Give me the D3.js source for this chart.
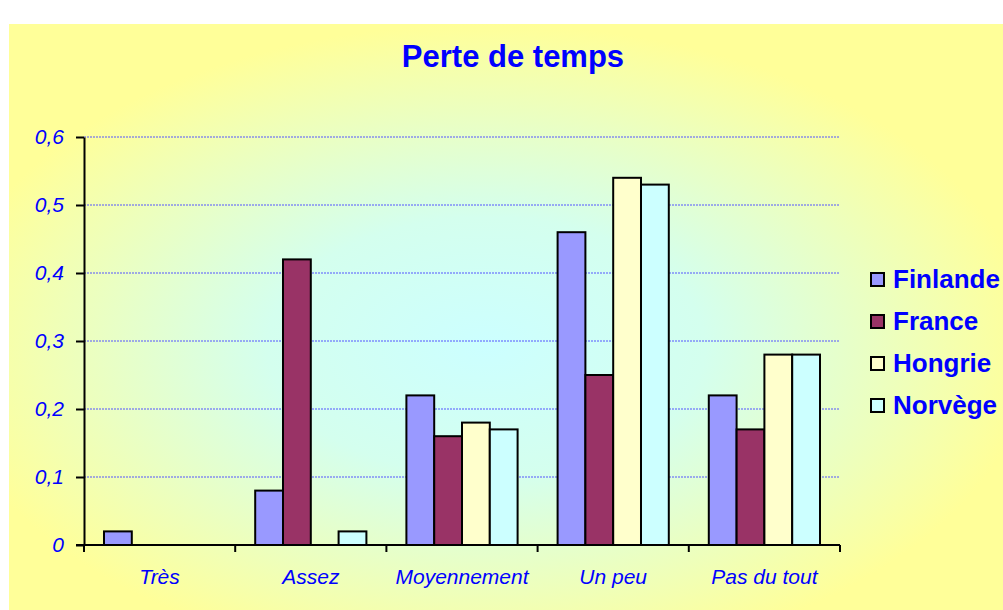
<!doctype html>
<html>
<head>
<meta charset="utf-8">
<script src="https://d3js.org/d3.v7.min.js"></script>
<style>
  body { margin: 0; background: #fff; }
  text { font-family: "Liberation Sans", Arial, sans-serif; }
</style>
</head>
<body>
<svg id="chart" width="1003" height="610"></svg>
<script>
// data
var categories = ["Très", "Assez", "Moyennement", "Un peu", "Pas du tout"]
var countries = ["Finlande", "France", "Hongrie", "Norvège"]
var finlande = [0.02, 0.08, 0.22, 0.46, 0.22]
var france   = [0, 0.42, 0.16, 0.25, 0.17]
var hongrie  = [0, 0, 0.18, 0.54, 0.28]
var norvege  = [0, 0.02, 0.17, 0.53, 0.28]
var yTicks = [0, 0.1, 0.2, 0.3, 0.4, 0.5, 0.6]
var colors = ["#9999FF", "#993366", "#FFFFCC", "#CCFFFF"]

var series = [finlande, france, hongrie, norvege]

var svg = d3.select("#chart")

// background
var defs = svg.append("defs")
var grad = defs.append("radialGradient").attr("id", "bg")
    .attr("cx", "48%").attr("cy", "55%").attr("r", "55%")
    .attr("fx", "48%").attr("fy", "55%")
grad.append("stop").attr("offset", "0%").attr("stop-color", "#CCFFFF")
grad.append("stop").attr("offset", "40%").attr("stop-color", "#D4FFEE")
grad.append("stop").attr("offset", "100%").attr("stop-color", "#FFFF99")

svg.append("rect").attr("x", 9).attr("y", 24).attr("width", 994).attr("height", 586)
    .attr("fill", "url(#bg)")

var plotL = 84, plotR = 840, plotT = 137, plotB = 545

var x0 = d3.scaleBand().domain(categories).range([plotL, plotR])
var x1 = d3.scaleBand().domain(countries).range([20, x0.bandwidth() - 20])
var y = d3.scaleLinear().domain([0, 0.6]).range([plotB, plotT])

// title
svg.append("text").attr("x", 513).attr("y", 67).attr("text-anchor", "middle")
    .attr("font-size", 31).attr("font-weight", "bold").attr("fill", "#0000FF")
    .text("Perte de temps")

// grid lines
svg.append("g").selectAll("line").data(yTicks.slice(1)).enter().append("line")
    .attr("x1", plotL).attr("x2", plotR)
    .attr("y1", function(d) { return y(d) }).attr("y2", function(d) { return y(d) })
    .attr("stroke", "#5555FF").attr("stroke-width", 1).attr("stroke-dasharray", "2,1")

// bars
var groups = svg.append("g").selectAll("g").data(categories).enter().append("g")
    .attr("transform", function(d) { return "translate(" + x0(d) + ",0)" })
groups.selectAll("rect")
    .data(function(d, i) {
        return countries.map(function(c, j) { return {c: c, v: series[j][i], j: j} })
    })
    .enter().filter(function(d) { return d.v > 0 }).append("rect")
    .attr("x", function(d) { return x1(d.c) })
    .attr("width", x1.bandwidth())
    .attr("y", function(d) { return y(d.v) })
    .attr("height", function(d) { return plotB - y(d.v) })
    .attr("fill", function(d) { return colors[d.j] })
    .attr("stroke", "#000").attr("stroke-width", 2)

// y axis
var yAxis = svg.append("g").attr("transform", "translate(" + plotL + ",0)")
    .call(d3.axisLeft(y).tickValues(yTicks).tickSize(8).tickSizeOuter(0).tickPadding(12)
        .tickFormat(function(d) { return d === 0 ? "0" : d3.format(".1f")(d).replace(".", ",") }))
yAxis.select(".domain").attr("stroke", "#000").attr("stroke-width", 2)
yAxis.selectAll(".tick line").attr("stroke", "#000").attr("stroke-width", 2)
yAxis.selectAll(".tick text").attr("fill", "#0000FF").attr("font-size", 21)
    .attr("font-style", "italic").attr("font-family", "Liberation Sans, Arial, sans-serif")

// x axis
var xAxis = svg.append("g").attr("transform", "translate(0," + plotB + ")")
xAxis.append("line").attr("x1", plotL - 8).attr("x2", plotR).attr("stroke", "#000").attr("stroke-width", 2)
xAxis.selectAll(".xt").data(categories.concat([null])).enter().append("line")
    .attr("x1", function(d, i) { return d ? x0(d) : plotR })
    .attr("x2", function(d, i) { return d ? x0(d) : plotR })
    .attr("y1", 0).attr("y2", 7).attr("stroke", "#000").attr("stroke-width", 2)
xAxis.selectAll(".xl").data(categories).enter().append("text")
    .attr("x", function(d) { return x0(d) + x0.bandwidth() / 2 })
    .attr("y", 39).attr("text-anchor", "middle")
    .attr("font-size", 21).attr("font-style", "italic").attr("fill", "#0000FF")
    .text(function(d) { return d })

// legend
var legend = svg.append("g").selectAll("g").data(countries).enter().append("g")
    .attr("transform", function(d, i) { return "translate(871," + (273 + i * 42) + ")" })
legend.append("rect").attr("width", 13).attr("height", 13)
    .attr("fill", function(d, i) { return colors[i] })
    .attr("stroke", "#000").attr("stroke-width", 2)
legend.append("text").attr("x", 22).attr("y", 15)
    .attr("font-size", 26).attr("font-weight", "bold").attr("fill", "#0000FF")
    .text(function(d) { return d })
</script>
</body>
</html>
